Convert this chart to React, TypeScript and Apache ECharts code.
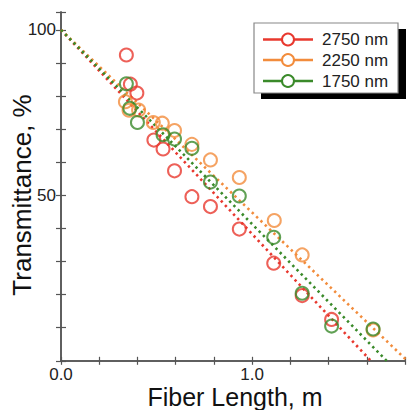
import React, { useEffect, useRef } from "react";
import * as echarts from "echarts";

const seriesNames = ["2750 nm", "2250 nm", "1750 nm"];
const seriesColors = ["#e8382e", "#f28c3c", "#3a8a2a"];

const redX = [0.342, 0.363, 0.397, 0.486, 0.534, 0.594, 0.685, 0.782, 0.933, 1.113, 1.262, 1.416];
const redY = [92.4, 83.6, 80.9, 66.7, 64.0, 57.4, 49.6, 46.6, 39.8, 29.5, 19.7, 12.5];
const orangeX = [0.337, 0.356, 0.406, 0.483, 0.53, 0.594, 0.685, 0.782, 0.933, 1.116, 1.262, 1.633];
const orangeY = [78.3, 75.7, 75.8, 72.0, 71.8, 69.6, 65.4, 60.7, 55.4, 42.4, 32.0, 9.3];
const greenX = [0.342, 0.36, 0.4, 0.534, 0.594, 0.685, 0.782, 0.933, 1.113, 1.262, 1.416, 1.633];
const greenY = [83.7, 76.3, 72.0, 68.3, 67.0, 64.2, 54.0, 49.8, 37.3, 20.4, 10.5, 9.6];

const fitX = [
  [0, 1.621],
  [0, 1.812],
  [0, 1.704],
];
const fitY = [
  [100, 0],
  [100, 0],
  [100, 0],
];

const xTickLabels = [0, 1];
const yTickLabels = [50, 100];

const FONT = "Liberation Sans, Arial, sans-serif";

export default function App() {
  const ref = useRef<HTMLDivElement>(null);
  useEffect(() => {
    if (!ref.current) return;
    const chart = echarts.init(ref.current, undefined, { renderer: "svg" });
    const pts = [
      redX.map((x, i) => [x, redY[i]]),
      orangeX.map((x, i) => [x, orangeY[i]]),
      greenX.map((x, i) => [x, greenY[i]]),
    ];
    const axisLine = { show: true, lineStyle: { color: "#555", width: 1.5 } };
    const xBase = {
      type: "value",
      min: 0,
      max: 1.8,
      interval: 0.2,
      splitLine: { show: false },
      axisLine,
      axisTick: { show: true, inside: true, length: 4, lineStyle: { color: "#555", width: 1.2 } },
    };
    const yBase = {
      type: "value",
      min: 0,
      max: 105.4,
      interval: 10,
      splitLine: { show: false },
      axisLine,
      axisTick: { show: true, inside: true, length: 5, lineStyle: { color: "#555", width: 1.2 } },
    };
    const lineSeries = fitX.map((xs, k) => ({
      type: "line",
      data: xs.map((x, i) => [x, fitY[k][i]]),
      showSymbol: false,
      symbol: "none",
      clip: true,
      z: 2,
      lineStyle: { color: seriesColors[k], width: 2.6, type: [2.4, 3.6] },
      silent: true,
    }));
    const scatterSeries = pts.map((d, k) => ({
      type: "scatter",
      name: seriesNames[k],
      data: d,
      symbol: "circle",
      symbolSize: 13,
      z: 3 + k,
      itemStyle: { color: "rgba(255,255,255,0)", borderColor: seriesColors[k], borderWidth: 2 },
    }));
    const legendRows = [39.5, 60, 81];
    const legendItems: any[] = [];
    seriesNames.forEach((n, k) => {
      const y = legendRows[k];
      legendItems.push(
        { type: "line", shape: { x1: 263, y1: y, x2: 313, y2: y }, style: { stroke: seriesColors[k], lineWidth: 2.5 }, z: 102 },
        { type: "circle", shape: { cx: 288, cy: y, r: 6 }, style: { fill: "#fff", stroke: seriesColors[k], lineWidth: 2 }, z: 103 },
        { type: "text", x: 322, y: y, style: { text: n, font: `17px ${FONT}`, fill: "#222", verticalAlign: "middle" }, z: 103 }
      );
    });
    chart.setOption({
      animation: false,
      backgroundColor: "#fff",
      grid: { left: 61, top: 12, width: 350.5, height: 348.8, containLabel: false },
      xAxis: [
        {
          ...xBase,
          position: "bottom",
          axisLabel: {
            show: true,
            margin: 5,
            fontSize: 17,
            fontFamily: FONT,
            color: "#222",
            formatter: (v: number) => (xTickLabels.some((t) => Math.abs(t - v) < 1e-6) ? v.toFixed(1) : ""),
          },
        },
        { ...xBase, position: "top", axisLabel: { show: false } },
      ],
      yAxis: [
        {
          ...yBase,
          position: "left",
          axisLabel: {
            show: true,
            margin: 5,
            fontSize: 17,
            fontFamily: FONT,
            color: "#222",
            formatter: (v: number) => (yTickLabels.some((t) => Math.abs(t - v) < 1e-6) ? String(Math.round(v)) : ""),
          },
        },
        { ...yBase, position: "right", axisLabel: { show: false } },
      ],
      series: [...lineSeries, ...scatterSeries],
      graphic: [
        {
          type: "text",
          x: 22,
          y: 195,
          rotation: Math.PI / 2,
          style: { text: "Transmittance, %", font: `26px ${FONT}`, fill: "#111", align: "center", verticalAlign: "middle" },
          z: 100,
        },
        {
          type: "text",
          x: 235,
          y: 397,
          style: { text: "Fiber Length, m", font: `25px ${FONT}`, fill: "#111", align: "center", verticalAlign: "middle" },
          z: 100,
        },
        { type: "rect", shape: { x: 261, y: 29, width: 145, height: 70 }, style: { fill: "#000" }, z: 100 },
        { type: "rect", shape: { x: 254, y: 23, width: 144, height: 70 }, style: { fill: "#fff", stroke: "#888", lineWidth: 1.2 }, z: 101 },
        ...legendItems,
      ],
    });
    return () => chart.dispose();
  }, []);
  return <div ref={ref} style={{ position: "absolute", left: 0, top: 0, width: 408, height: 410 }} />;
}
